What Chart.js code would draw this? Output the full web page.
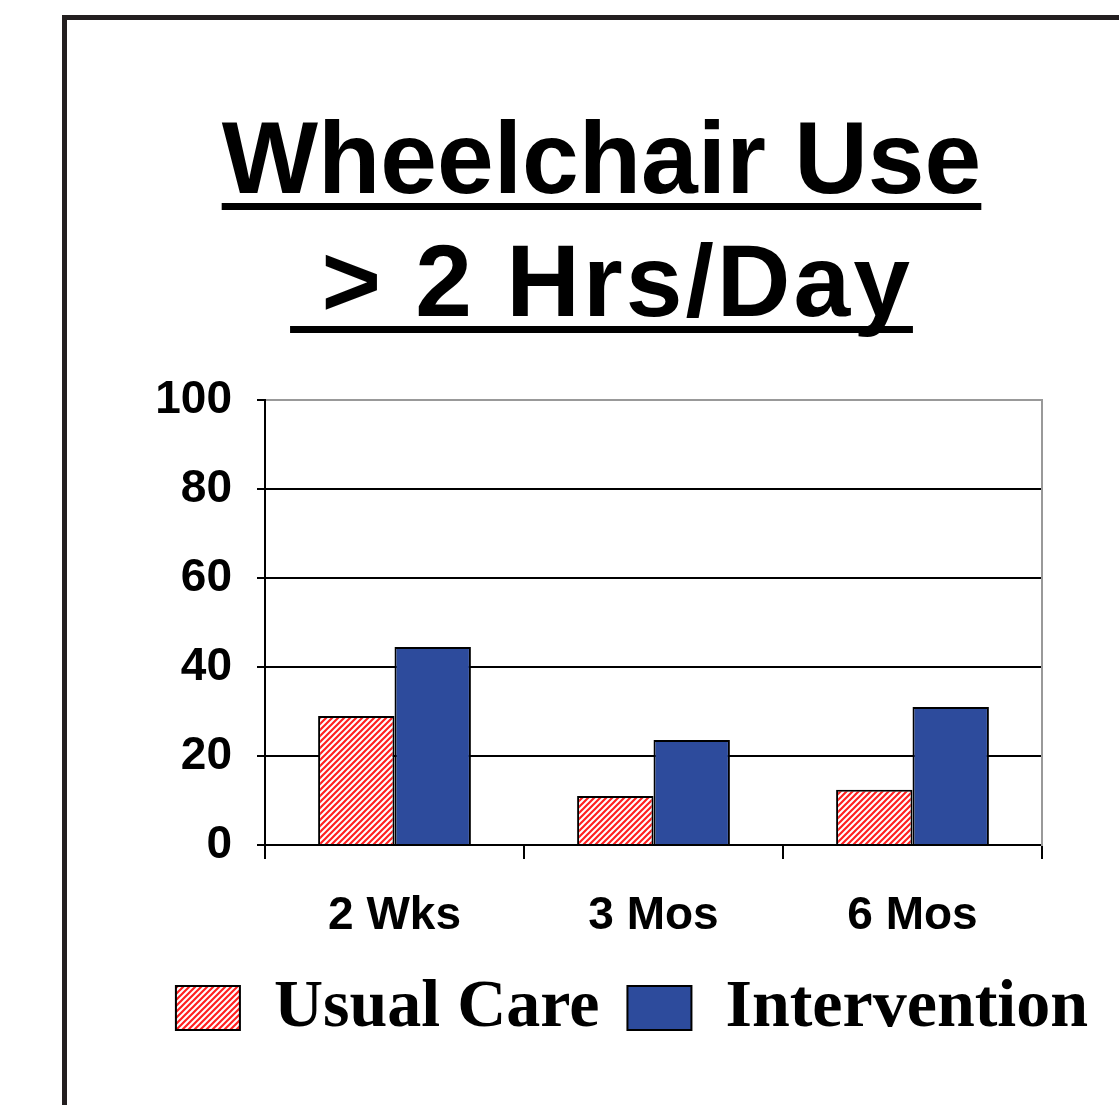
<!DOCTYPE html>
<html>
<head>
<meta charset="utf-8">
<script src="https://cdn.jsdelivr.net/npm/chart.js@4"></script>
<style>
  body { margin: 0; background: #fff; overflow: hidden; width: 1119px; height: 1105px; position: relative; }
  #moldura { position: absolute; left: 62px; top: 15px; width: 1200px; height: 1200px; border: 5px solid #231f20; }
  .titulo { position: absolute; left: 0; width: 1203px; text-align: center; font-family: "Liberation Sans", Arial, sans-serif;
            font-weight: bold; font-size: 102px; line-height: 1; color: #000; white-space: pre;
            text-decoration: underline; text-decoration-thickness: 7px; text-underline-offset: 10px; text-decoration-skip-ink: none; }
  #linha1 { top: 107px; }
  #linha2 { top: 230px; letter-spacing: 3px; }
  #grafico { position: absolute; left: 0; top: 0; }
</style>
</head>
<body>
<div id="moldura"></div>
<div class="titulo" id="linha1">Wheelchair Use</div>
<div class="titulo" id="linha2"> &gt; 2 Hrs/Day</div>
<canvas id="grafico" width="1119" height="1105"></canvas>
<script>
var categorias = ['2 Wks', '3 Mos', '6 Mos'];
var usualCare = [29, 11, 12.4];
var intervencao = [44.5, 23.6, 31];
var ticksY = [0, 20, 40, 60, 80, 100];

function criarHachura(ctx) {
    var c = document.createElement('canvas');
    c.width = 6; c.height = 6;
    var g = c.getContext('2d');
    g.fillStyle = '#fff';
    g.fillRect(0, 0, 6, 6);
    g.strokeStyle = '#ff2020';
    g.lineWidth = 2.2;
    g.beginPath();
    g.moveTo(0, 6); g.lineTo(6, 0);
    g.moveTo(-3, 3); g.lineTo(3, -3);
    g.moveTo(3, 9); g.lineTo(9, 3);
    g.stroke();
    return ctx.createPattern(c, 'repeat');
}

var ctx = document.getElementById('grafico').getContext('2d');
var fonteEixo = { family: '"Liberation Sans", Arial, sans-serif', weight: 'bold', size: 46 };

var myChart = new Chart(ctx, {
    type: 'bar',
    data: {
        labels: categorias,
        datasets: [{
            label: 'Usual Care',
            data: usualCare,
            backgroundColor: criarHachura(ctx),
            borderColor: '#000',
            borderWidth: 2
        }, {
            label: 'Intervention',
            data: intervencao,
            backgroundColor: '#2d4b9c',
            borderColor: '#000',
            borderWidth: 2
        }]
    },
    options: {
        responsive: false,
        animation: false,
        layout: { padding: { left: 145, right: 0, top: 400, bottom: 53 } },
        datasets: { bar: { categoryPercentage: 0.59, barPercentage: 1 } },
        plugins: {
            tooltip: { enabled: false },
            legend: {
                position: 'bottom',
                labels: {
                    font: { family: '"Liberation Serif", "Times New Roman", serif', weight: 'bold', size: 68 },
                    color: '#000',
                    boxWidth: 64,
                    boxHeight: 44,
                    padding: 28
                }
            }
        },
        scales: {
            x: {
                afterFit: function (s) { s.height = 101; },
                grid: { offset: true, drawOnChartArea: false, tickLength: 14, color: '#000', lineWidth: 2 },
                border: { color: '#000', width: 2 },
                ticks: { font: fonteEixo, color: '#000', padding: 30 }
            },
            y: {
                min: 0,
                max: 100,
                afterBuildTicks: function (s) { s.ticks = ticksY.map(function (v) { return { value: v }; }); },
                afterFit: function (s) { s.width = 120; },
                grid: {
                    color: function (c) { return c.tick && c.tick.value === 100 ? '#999' : '#000'; },
                    tickColor: '#000',
                    lineWidth: 2,
                    tickLength: 8
                },
                border: { color: '#000', width: 2 },
                ticks: { font: fonteEixo, color: '#000', padding: 25 }
            },
            y2: {
                position: 'right',
                afterFit: function (s) { s.width = 77; },
                grid: { display: false },
                ticks: { display: false },
                border: { color: '#999', width: 2 }
            }
        }
    }
});
</script>
</body>
</html>
